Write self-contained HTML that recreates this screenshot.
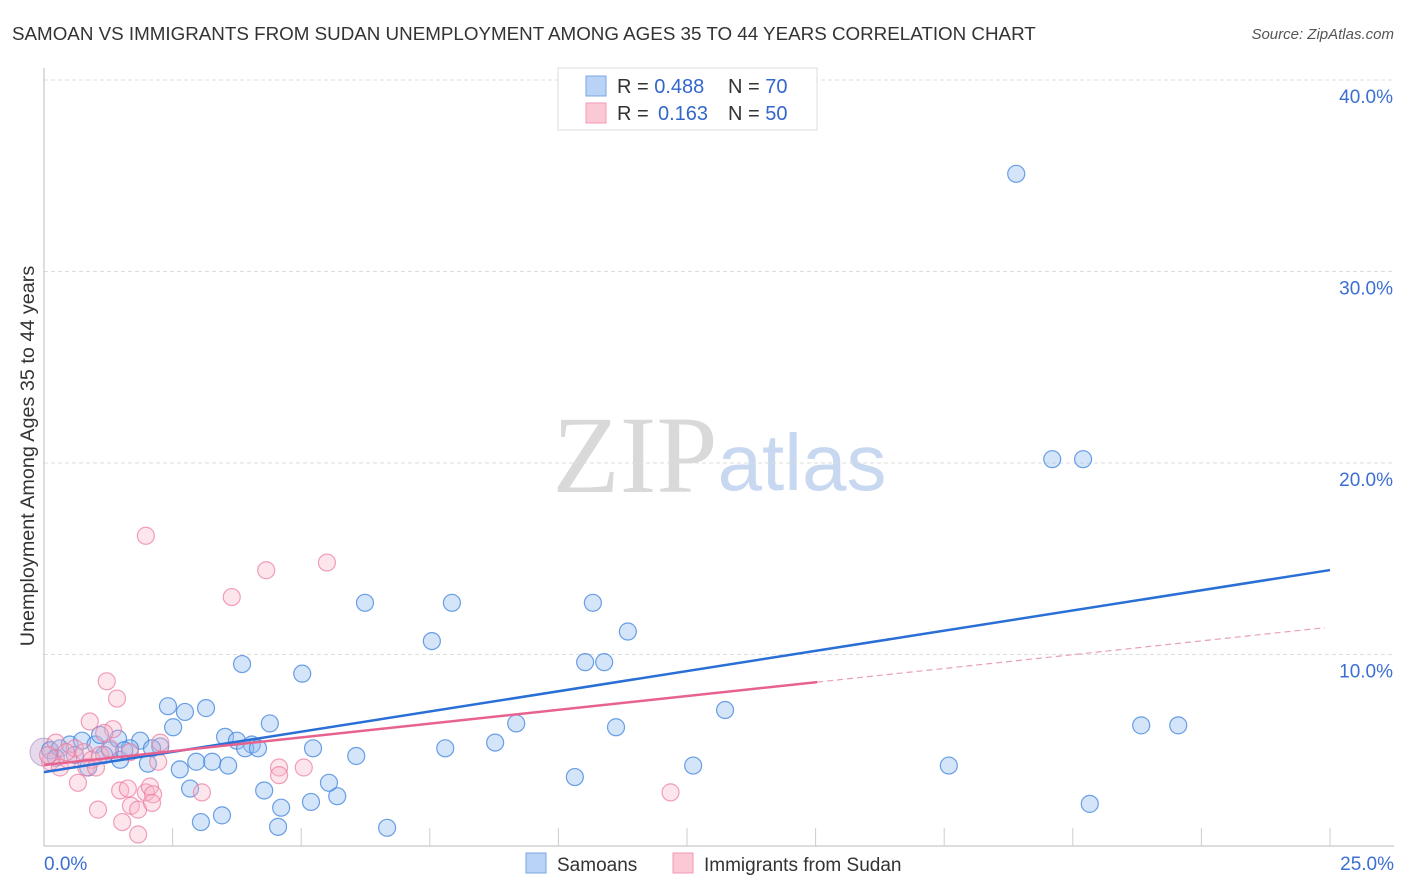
<!DOCTYPE html>
<html><head><meta charset="utf-8"><style>
body{margin:0;background:#fff;font-family:"Liberation Sans",sans-serif;}
svg{display:block}
</style></head><body>
<svg id="chart" width="1406" height="892" xmlns="http://www.w3.org/2000/svg">
<text x="12" y="40" font-size="18.8" fill="#333">SAMOAN VS IMMIGRANTS FROM SUDAN UNEMPLOYMENT AMONG AGES 35 TO 44 YEARS CORRELATION CHART</text>
<text x="1394" y="39" font-size="15" fill="#555" font-style="italic" text-anchor="end">Source: ZipAtlas.com</text>
<text x="635" y="492" font-size="110" fill="#d9d9d9" font-family="Liberation Serif,serif" text-anchor="middle">ZIP</text>
<text x="802" y="490" font-size="80" fill="#c8d8f0" text-anchor="middle">atlas</text>
<g id="grid"></g><g id="axes"></g><g id="pts"></g><g id="lines"></g>
<text x="34" y="456" font-size="19.8" fill="#333" text-anchor="middle" transform="rotate(-90 34 456)">Unemployment Among Ages 35 to 44 years</text>
<g>
<rect x="558" y="68" width="259" height="62" fill="#fff" stroke="#ddd"/>
<rect x="586" y="76" width="20" height="20" fill="#b9d3f7" stroke="#7aa5e0"/>
<rect x="586" y="103" width="20" height="20" fill="#fbc8d6" stroke="#f09ab3"/>
<text x="617" y="93" font-size="20" fill="#333">R = <tspan fill="#3366cc">0.488</tspan><tspan x="728">N = </tspan><tspan fill="#3366cc">70</tspan></text>
<text x="617" y="120" font-size="20" fill="#333">R = <tspan fill="#3366cc" x="658">0.163</tspan><tspan x="728">N = </tspan><tspan fill="#3366cc">50</tspan></text>
</g>
<g>
<rect x="526" y="853" width="20" height="20" fill="#b9d3f7" stroke="#7aa5e0"/>
<text x="557" y="871" font-size="19" fill="#333">Samoans</text>
<rect x="673" y="853" width="20" height="20" fill="#fbc8d6" stroke="#f09ab3"/>
<text x="704" y="871" font-size="19" fill="#333">Immigrants from Sudan</text>
</g>
</svg>
<script>
const xTicks=[0,25];
const yTicks=[10,20,30,40];
const blueX=[18.9,19.6,20.2,6.24,7.93,10.67,11.35,7.54,10.52,10.89,3.85,5.02,13.24,2.41,3.15,2.74,2.51,4.39,9.18,11.12,21.33,22.05,3.52,3.75,4.04,3.91,4.16,5.23,6.07,7.8,8.77,1.87,2.26,2.64,2.96,3.27,3.58,2.02,12.62,17.59,4.28,2.84,4.61,5.19,5.7,5.54,10.32,3.05,3.46,4.55,6.67,20.33,0.12,0.31,0.5,0.74,1.0,1.28,1.48,0.86,1.09,1.44,1.67,2.1,0.23,0.6,1.17,1.56];
const blueY=[35.1,20.2,20.2,12.7,12.7,12.7,11.2,10.7,9.6,9.6,9.5,9.0,7.1,7.3,7.2,7.0,6.2,6.4,6.4,6.2,6.3,6.3,5.7,5.5,5.3,5.1,5.1,5.1,4.7,5.1,5.4,5.5,5.2,4.0,4.4,4.4,4.2,4.3,4.2,4.2,2.9,3.0,2.0,2.3,2.6,3.3,3.6,1.25,1.6,1.0,0.95,2.2,5.0,5.1,5.3,5.5,5.3,5.0,4.5,4.1,5.8,5.6,5.1,5.1,4.6,4.75,4.75,5.0];
const pinkX=[1.98,5.5,4.32,3.65,1.22,1.42,0.89,1.34,1.17,2.26,1.67,0.66,1.05,1.52,1.83,1.48,1.63,1.98,2.06,2.12,1.69,1.83,2.1,3.07,4.57,4.57,5.05,12.18,0.12,0.31,0.47,0.23,0.6,0.78,0.93,1.09,1.28,0.82,1.01,2.22,0.43,0.08];
const pinkY=[16.2,14.8,14.4,13.0,8.6,7.7,6.5,6.1,5.9,5.4,4.9,3.3,1.9,1.25,0.6,2.9,3.0,2.8,3.1,2.7,2.1,1.9,2.25,2.8,4.1,3.7,4.1,2.8,4.4,4.1,4.5,5.4,5.1,4.9,4.5,4.75,5.1,4.1,4.1,4.4,4.9,4.75];
const blueTrend=[3.86,14.41];
const pinkTrend=[4.23,11.43];
const pinkSolidEnd=15.03;
const NS="http://www.w3.org/2000/svg";
const X=v=>44+v/25*1286, Y=v=>846-v*19.15;
function mk(tag,attrs,parent){const e=document.createElementNS(NS,tag);for(const k in attrs)e.setAttribute(k,attrs[k]);parent.appendChild(e);return e;}
const grid=document.getElementById('grid'),axes=document.getElementById('axes'),pts=document.getElementById('pts'),lines=document.getElementById('lines');
yTicks.forEach(t=>{
 const l=mk('line',{x1:44,x2:1394,y1:Y(t),y2:Y(t),stroke:'#ddd','stroke-dasharray':'4,3'},grid);
 
 
 const tx=mk('text',{x:1393,y:Y(t)+23,'font-size':19,fill:'#3b6fd4','text-anchor':'end'},grid);
 tx.textContent=t.toFixed(1)+'%';
 
 
});
const xa=mk('line',{x1:44,x2:1394,y1:846,y2:846,stroke:'#bbb'},axes);


const ya=mk('line',{x1:44,x2:44,y1:68,y2:846,stroke:'#bbb'},axes);


for(let i=1;i<=10;i++){const tk=mk('line',{x1:X(i*2.5),x2:X(i*2.5),y1:828,y2:846,stroke:'#ccc'},axes);
 
 }
xTicks.forEach((t,i)=>{const tx=mk('text',{x:i==0?44:1394,y:870,'font-size':19,fill:'#3b6fd4','text-anchor':i==0?'start':'end'},axes);
 tx.textContent=t.toFixed(1)+'%';
 
 });
const big=mk('circle',{cx:X(0),cy:Y(4.9),r:14,fill:'rgba(180,150,200,0.35)',stroke:'rgba(160,130,190,0.6)'},pts);


blueX.forEach((v,i)=>{const c=mk('circle',{cx:X(v),cy:Y(blueY[i]),r:8.5,fill:'rgba(150,190,240,0.4)',stroke:'rgba(60,130,220,0.75)','stroke-width':1.2},pts);
 
 });
pinkX.forEach((v,i)=>{const c=mk('circle',{cx:X(v),cy:Y(pinkY[i]),r:8.5,fill:'rgba(250,180,200,0.35)',stroke:'rgba(235,120,160,0.7)','stroke-width':1.2},pts);
 
 });
const bl=mk('line',{x1:X(0),y1:Y(blueTrend[0]),x2:X(25),y2:Y(blueTrend[1]),stroke:'#2a6fd6','stroke-width':2.5},lines);


const pm=(pinkTrend[1]-pinkTrend[0])/25;
const ps=mk('line',{x1:X(0),y1:Y(pinkTrend[0]),x2:X(pinkSolidEnd),y2:Y(pinkTrend[0]+pm*pinkSolidEnd),stroke:'#e8628f','stroke-width':2.5},lines);


const pd=mk('line',{x1:X(pinkSolidEnd),y1:Y(pinkTrend[0]+pm*pinkSolidEnd),x2:X(24.9),y2:Y(pinkTrend[0]+pm*24.9),stroke:'#e8a0b8','stroke-width':1.2,'stroke-dasharray':'6,4'},lines);


</script>
</body></html>
